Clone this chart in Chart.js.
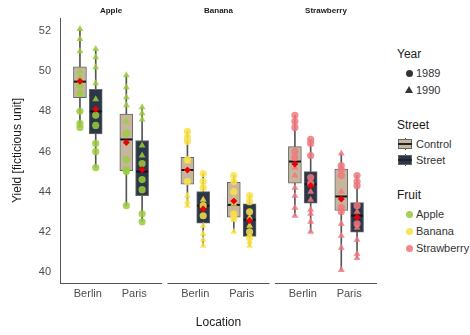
<!DOCTYPE html>
<html>
<head>
<meta charset="utf-8">
<script src="https://cdn.jsdelivr.net/npm/chart.js@4.4.1/dist/chart.umd.min.js"></script>
<style>
  body { margin: 0; background: #fff; font-family: "Liberation Sans", Arial, sans-serif; }
  #wrap { position: relative; width: 470px; height: 335px; }
  #chart { position: absolute; left: 0; top: 0; }
  .lg { position: absolute; white-space: nowrap; }
  .lg-title { font-size: 12px; line-height: 14px; color: #1a1a1a; }
  .lg-item { font-size: 11px; line-height: 13px; color: #333; }
  .dot { position: absolute; width: 7px; height: 7px; border-radius: 50%; }
  .tri { position: absolute; width: 0; height: 0; border-left: 4px solid transparent;
         border-right: 4px solid transparent; border-bottom: 7px solid #333; }
  .key { position: absolute; width: 14px; height: 12px; }
  .key .wh { position: absolute; left: 6.5px; top: 0; width: 1px; height: 12px; background: #555; }
  .key .bx { position: absolute; left: 0; top: 1px; width: 12px; height: 8px; border: 1px solid #666; }
  .key .md { position: absolute; left: 0; top: 5px; width: 14px; height: 2px; background: #222; }
</style>
</head>
<body>
<div id="wrap">
  <canvas id="chart" width="385" height="335"></canvas>
  <div id="legend"></div>
</div>
<script>
/* ---------- DATA (order: Apple Berlin Control, Apple Berlin Street, Apple Paris Control, ...) ---------- */
const panels = ["Apple", "Banana", "Strawberry"];
const locations = ["Berlin", "Paris"];
const streets = ["Control", "Street"];
const years = ["1989", "1990"];
const yTicks = [40, 42, 44, 46, 48, 50, 52];

const q1 =          [48.68, 46.88, 45.05, 43.8, 44.37, 42.43, 42.73, 41.77, 44.42, 43.43, 43.06, 41.98];
const medians =     [49.48, 48.0, 46.6, 45.0, 45.08, 43.3, 43.34, 42.6, 45.5, 44.37, 43.76, 42.8];
const q3 =          [50.22, 49.1, 47.87, 46.55, 45.71, 44.0, 44.47, 43.39, 46.24, 45.0, 45.12, 43.46];
const whiskerLow =  [47.2, 45.2, 43.3, 42.5, 43.3, 41.3, 42.0, 41.3, 42.8, 42.0, 40.1, 40.7];
const whiskerHigh = [52.1, 51.1, 49.8, 48.2, 47.0, 44.9, 44.8, 43.8, 47.8, 46.6, 45.9, 44.8];
const means =       [49.5, 48.1, 46.45, 45.1, 45.08, 43.13, 43.54, 42.56, 45.38, 44.3, 43.63, 42.73];

const yield1989 = [
  [49.3, 48.9, 48.0, 47.4, 47.2],
  [47.8, 47.3, 46.4, 46.0, 45.2],
  [46.9, 45.6, 45.1, 45.0, 43.3],
  [45.4, 44.6, 44.1, 42.9, 42.5],
  [47.0, 46.7, 46.5, 45.6, 44.5],
  [44.9, 44.5, 44.2, 43.3, 42.8],
  [44.8, 44.5, 44.0, 42.9, 42.7],
  [43.8, 43.5, 43.0, 42.0, 41.7],
  [47.8, 47.5, 47.2, 46.0, 45.7],
  [46.6, 46.4, 45.8, 44.7, 44.4],
  [45.3, 45.1, 44.8, 43.2, 43.0],
  [44.8, 44.5, 44.3, 43.3, 42.4]
];
const yield1990 = [
  [52.1, 51.6, 51.0, 50.0, 49.7],
  [51.1, 50.7, 50.2, 49.4, 48.6],
  [49.8, 49.2, 48.7, 48.3, 47.5],
  [48.2, 47.9, 47.6, 46.3, 45.8],
  [45.5, 45.1, 43.8, 43.5, 43.3],
  [43.6, 42.3, 41.9, 41.6, 41.3],
  [43.6, 43.4, 42.6, 42.0],
  [42.7, 42.3, 41.5, 41.3],
  [45.2, 44.8, 44.2, 43.8, 43.2, 42.8],
  [44.0, 43.6, 43.1, 42.9, 42.5, 42.0],
  [45.9, 44.0, 42.4, 41.8, 41.2, 40.1],
  [43.0, 42.2, 41.6, 40.9, 40.7]
];

/* ---------- STYLE ---------- */
const fruitColors = ["rgba(154,205,60,0.85)", "rgba(250,226,70,0.85)", "rgba(240,120,125,0.85)"];
const fruitKeys = ["#a2d05a", "#f8e35a", "#f08a8c"];
const streetFills = ["#c6b69e", "#2b3648"];
const PANEL_STEP = 2.317;
const DODGE = 0.17;
const X_MIN = 0.4;
const X_MAX = X_MIN + 2.2 + 2 * PANEL_STEP;

function groupX(i) {
  const p = Math.floor(i / 4), l = Math.floor(i / 2) % 2, s = i % 2;
  return 1 + l + p * PANEL_STEP + (s ? DODGE : -DODGE);
}
const groups = q1.map((_, i) => i);

/* ---------- DATASETS ---------- */
const datasets = [];

datasets.push({
  type: "bar", order: 6, grouped: false, barThickness: 1,
  backgroundColor: "#555",
  data: groups.map(i => ({ x: groupX(i), y: [whiskerLow[i], whiskerHigh[i]] }))
});

streets.forEach((st, s) => {
  datasets.push({
    type: "bar", order: 5, grouped: false, barThickness: 13,
    backgroundColor: streetFills[s], borderColor: "#666", borderWidth: 1, borderSkipped: false,
    data: groups.filter(i => i % 2 === s).map(i => ({ x: groupX(i), y: [q1[i], q3[i]] }))
  });
});

datasets.push({
  type: "scatter", order: 4, pointStyle: "line", pointRadius: 6, borderColor: "#151515", borderWidth: 2,
  data: groups.map(i => ({ x: groupX(i), y: medians[i] }))
});

panels.forEach((fruit, p) => {
  [yield1989, yield1990].forEach((src, yr) => {
    const pts = [];
    for (let k = 0; k < 4; k++) {
      const i = p * 4 + k;
      src[i].forEach(v => pts.push({ x: groupX(i), y: v }));
    }
    datasets.push({
      type: "scatter", order: 2,
      pointStyle: yr ? "triangle" : "circle",
      pointRadius: yr ? 4 : 3.6,
      backgroundColor: fruitColors[p], borderWidth: 0,
      data: pts
    });
  });
});

datasets.push({
  type: "scatter", order: 1, pointStyle: "rectRot", pointRadius: 3.5,
  backgroundColor: "#e8000b", borderWidth: 0,
  data: groups.map(i => ({ x: groupX(i), y: means[i] }))
});

/* ---------- X TICKS ---------- */
const xTickPos = [];
const xTickText = {};
panels.forEach((_, p) => locations.forEach((loc, l) => {
  const v = 1 + l + p * PANEL_STEP;
  xTickPos.push(v);
  xTickText[v.toFixed(3)] = loc;
}));

/* ---------- FACET STRIPS + BASELINES ---------- */
const facetPlugin = {
  id: "facets",
  afterDraw(chart) {
    const { ctx, chartArea, scales: { x } } = chart;
    ctx.save();
    panels.forEach((name, p) => {
      const x0 = x.getPixelForValue(X_MIN + p * PANEL_STEP);
      const x1 = x.getPixelForValue(X_MIN + 2.2 + p * PANEL_STEP);
      ctx.strokeStyle = "#555";
      ctx.lineWidth = 1;
      ctx.beginPath();
      ctx.moveTo(x0, Math.round(chartArea.bottom) + 0.5);
      ctx.lineTo(x1, Math.round(chartArea.bottom) + 0.5);
      ctx.stroke();
      ctx.fillStyle = "#1a1a1a";
      ctx.font = "bold 8px 'Liberation Sans', Arial, sans-serif";
      ctx.textAlign = "center";
      ctx.textBaseline = "middle";
      ctx.fillText(name, (x0 + x1) / 2, 11);
    });
    ctx.restore();
  }
};

new Chart(document.getElementById("chart"), {
  type: "bar",
  data: { datasets },
  options: {
    responsive: false,
    animation: false,
    layout: { padding: { top: 18, right: 3, left: 0, bottom: 0 } },
    plugins: { legend: { display: false }, tooltip: { enabled: false } },
    scales: {
      x: {
        type: "linear", min: X_MIN, max: X_MAX, offset: false,
        grid: { display: false, drawTicks: false },
        border: { display: false },
        afterBuildTicks: s => { s.ticks = xTickPos.map(v => ({ value: v })); },
        afterFit: s => { s.height = 52; },
        ticks: {
          autoSkip: false, maxRotation: 0, padding: 4, color: "#4d4d4d",
          font: { family: "'Liberation Sans', Arial, sans-serif", size: 11 },
          callback: v => xTickText[Number(v).toFixed(3)] || ""
        },
        title: {
          display: true, text: "Location", color: "#1a1a1a",
          font: { family: "'Liberation Sans', Arial, sans-serif", size: 12 },
          padding: { top: 0, bottom: 5 }
        }
      },
      y: {
        min: 39.45, max: 52.65,
        grid: { display: false, drawTicks: false },
        border: { display: true, color: "#555", width: 1 },
        afterBuildTicks: s => { s.ticks = yTicks.map(v => ({ value: v })); },
        afterFit: s => { s.width = 60; },
        ticks: {
          padding: 9, color: "#4d4d4d",
          font: { family: "'Liberation Sans', Arial, sans-serif", size: 11 }
        },
        title: {
          display: true, text: "Yield [ficticious unit]", color: "#1a1a1a",
          font: { family: "'Liberation Sans', Arial, sans-serif", size: 12 },
          padding: { top: 10, bottom: 0 }
        }
      }
    }
  },
  plugins: [facetPlugin]
});

/* ---------- LEGEND ---------- */
const legend = document.getElementById("legend");
function add(html) { legend.insertAdjacentHTML("beforeend", html); }
function title(text, cy) { add(`<div class="lg lg-title" style="left:397px;top:${cy - 7}px">${text}</div>`); }
function label(text, cy) { add(`<div class="lg lg-item" style="left:416px;top:${cy - 6.5}px">${text}</div>`); }

title("Year", 54);
years.forEach((yr, k) => {
  const cy = 73 + k * 17;
  add(k ? `<div class="tri" style="left:405px;top:${cy - 4}px"></div>`
        : `<div class="dot" style="left:405.5px;top:${cy - 3.5}px;background:#333"></div>`);
  label(yr, cy);
});

title("Street", 125);
streets.forEach((st, s) => {
  const cy = 144 + s * 16;
  add(`<div class="key" style="left:398px;top:${cy - 6}px"><div class="wh"></div>` +
      `<div class="bx" style="background:${streetFills[s]}"></div><div class="md"></div></div>`);
  label(st, cy);
});

title("Fruit", 195);
panels.forEach((fruit, p) => {
  const cy = 214 + p * 17;
  add(`<div class="dot" style="left:405.5px;top:${cy - 3.5}px;background:${fruitKeys[p]}"></div>`);
  label(fruit, cy);
});
</script>
</body>
</html>
